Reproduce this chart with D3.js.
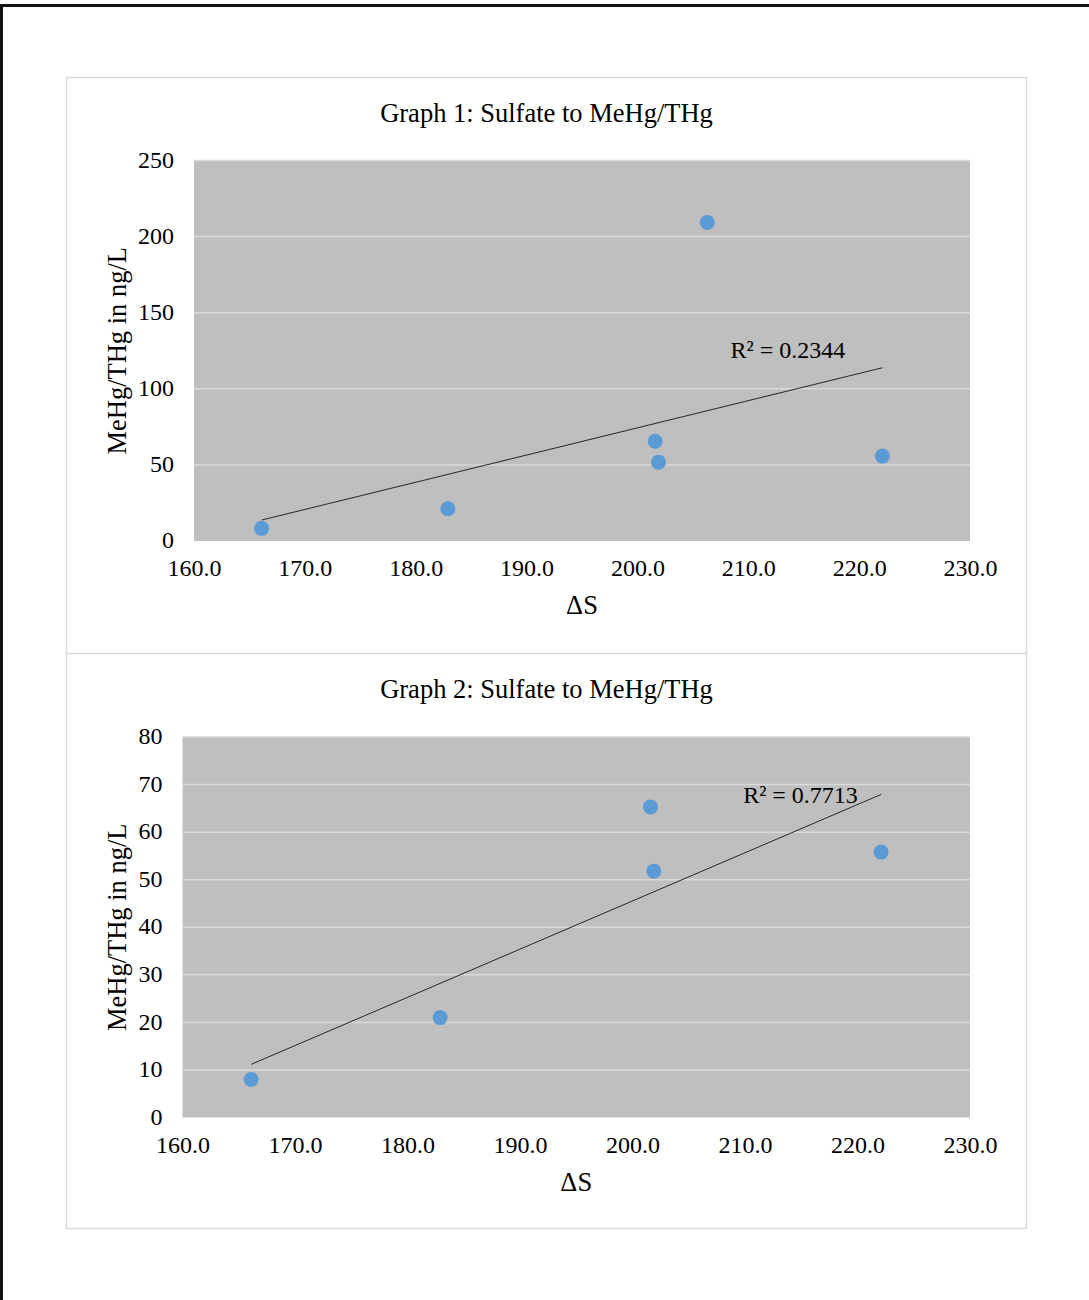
<!DOCTYPE html>
<html>
<head>
<meta charset="utf-8">
<script src="https://cdn.jsdelivr.net/npm/d3@7"></script>
<style>
  html, body { margin: 0; padding: 0; background: #fff; }
  svg { display: block; }
  text { font-family: "Liberation Serif", "Times New Roman", serif; fill: #000; }
</style>
</head>
<body>
<svg id="chart" width="1089" height="1300"></svg>
<script>
// ---- Data ----
const chartTitles = ["Graph 1: Sulfate to MeHg/THg", "Graph 2: Sulfate to MeHg/THg"];
const xAxisTitle = "ΔS";
const yAxisTitle = "MeHg/THg in ng/L";

const deltaS1 = [166.1, 182.9, 201.6, 201.9, 206.3, 222.1];
const meHg1   = [8.3, 21.2, 65.5, 51.8, 209.3, 55.8];

const deltaS2 = [166.1, 182.9, 201.6, 201.9, 222.1];
const meHg2   = [8.0, 21.0, 65.3, 51.8, 55.8];

const xTicks = [160, 170, 180, 190, 200, 210, 220, 230];
const yTicks1 = [0, 50, 100, 150, 200, 250];
const yTicks2 = [0, 10, 20, 30, 40, 50, 60, 70, 80];
const r2Labels = ["R² = 0.2344", "R² = 0.7713"];

// ---- Layout ----
const svg = d3.select("#chart");

// page frame
svg.append("line").attr("x1", 0).attr("x2", 1089).attr("y1", 5.5).attr("y2", 5.5)
  .attr("stroke", "#111").attr("stroke-width", 3);
svg.append("line").attr("x1", 1.5).attr("x2", 1.5).attr("y1", 4).attr("y2", 1300)
  .attr("stroke", "#111").attr("stroke-width", 3);

// card
svg.append("rect").attr("x", 66.5).attr("y", 77.5).attr("width", 960).attr("height", 1151)
  .attr("fill", "#fff").attr("stroke", "#d9d9d9").attr("stroke-width", 1.5);
svg.append("line").attr("x1", 66.5).attr("x2", 1026.5).attr("y1", 653.5).attr("y2", 653.5)
  .attr("stroke", "#d9d9d9").attr("stroke-width", 1.5);

function regression(xs, ys) {
  const n = xs.length;
  const mx = d3.mean(xs), my = d3.mean(ys);
  let sxy = 0, sxx = 0;
  for (let i = 0; i < n; i++) { sxy += (xs[i]-mx)*(ys[i]-my); sxx += (xs[i]-mx)**2; }
  const b = sxy / sxx, a = my - b * mx;
  return x => a + b * x;
}

function drawChart(cfg) {
  const { top, plotLeft, plotRight, plotTop, plotBottom, xs, ys, yTicks, yMax, title, r2, r2dx, r2dy } = cfg;
  const g = svg.append("g");
  const x = d3.scaleLinear().domain([160, 230]).range([plotLeft, plotRight]);
  const y = d3.scaleLinear().domain([0, yMax]).range([plotBottom, plotTop]);

  // title
  g.append("text").attr("x", 546.5).attr("y", top + 45).attr("text-anchor", "middle")
    .style("font-size", "26.5px").text(title);

  // plot area
  g.append("rect").attr("x", plotLeft).attr("y", plotTop)
    .attr("width", plotRight - plotLeft).attr("height", plotBottom - plotTop)
    .attr("fill", "#bfbfbf");

  // gridlines
  g.selectAll(".grid").data(yTicks.filter(t => t > 0)).join("line")
    .attr("x1", plotLeft).attr("x2", plotRight)
    .attr("y1", d => y(d)).attr("y2", d => y(d))
    .attr("stroke", "#d9d9d9").attr("stroke-width", 1.5);

  // y axis
  const yAxis = g.append("g").attr("transform", `translate(${plotLeft - 20},0)`)
    .call(d3.axisLeft(y).tickValues(yTicks).tickSize(0).tickPadding(0).tickFormat(d3.format("d")));
  yAxis.select(".domain").remove();
  yAxis.selectAll("text").style("font-size", "24px").style("font-family", "Liberation Serif")
    .attr("fill", "#000").attr("dy", "0.28em");

  // x axis
  const xAxis = g.append("g").attr("transform", `translate(0,${plotBottom + 35})`)
    .call(d3.axisBottom(x).tickValues(xTicks).tickSize(0).tickPadding(0).tickFormat(d3.format(".1f")));
  xAxis.select(".domain").remove();
  xAxis.selectAll("text").style("font-size", "24px").style("font-family", "Liberation Serif")
    .attr("fill", "#000").attr("dy", "0");

  // axis titles
  g.append("text").attr("x", (plotLeft + plotRight) / 2).attr("y", plotBottom + 73)
    .attr("text-anchor", "middle").style("font-size", "26.5px").text(xAxisTitle);
  g.append("text")
    .attr("transform", `translate(126,${(plotTop + plotBottom) / 2}) rotate(-90)`)
    .attr("text-anchor", "middle").style("font-size", "26.5px").text(yAxisTitle);

  // trendline
  const f = regression(xs, ys);
  const x0 = d3.min(xs), x1 = d3.max(xs);
  g.append("line").attr("x1", x(x0)).attr("y1", y(f(x0))).attr("x2", x(x1)).attr("y2", y(f(x1)))
    .attr("stroke", "#262626").attr("stroke-width", 1);

  // points
  g.selectAll(".pt").data(xs.map((v, i) => [v, ys[i]])).join("circle")
    .attr("cx", d => x(d[0])).attr("cy", d => y(d[1])).attr("r", 7.5)
    .attr("fill", "#5b9bd5");

  // R² label
  g.append("text").attr("x", x(x1) + r2dx).attr("y", y(f(x1)) + r2dy)
    .style("font-size", "24px").text(r2);
}

drawChart({
  top: 77, plotLeft: 194, plotRight: 970, plotTop: 160.5, plotBottom: 541,
  xs: deltaS1, ys: meHg1, yTicks: yTicks1, yMax: 250, title: chartTitles[0],
  r2: r2Labels[0], r2dx: -152, r2dy: -10
});
drawChart({
  top: 653, plotLeft: 182.5, plotRight: 970, plotTop: 737, plotBottom: 1117.5,
  xs: deltaS2, ys: meHg2, yTicks: yTicks2, yMax: 80, title: chartTitles[1],
  r2: r2Labels[1], r2dx: -138, r2dy: 9
});
</script>
</body>
</html>
